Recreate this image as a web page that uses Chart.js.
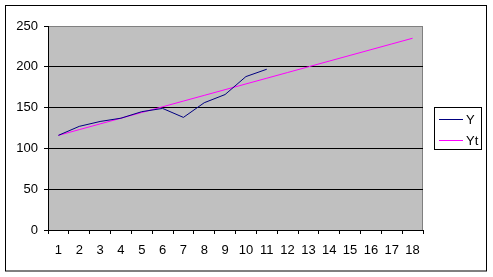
<!DOCTYPE html>
<html>
<head>
<meta charset="utf-8">
<script src="https://cdn.jsdelivr.net/npm/chart.js@4"></script>
<style>
  html, body { margin: 0; padding: 0; background: #fff; }
  #wrap { width: 493px; height: 277px; }
</style>
</head>
<body>
<div id="wrap"><canvas id="grafik" width="493" height="277"></canvas></div>
<script>
// data
var periods = ['1','2','3','4','5','6','7','8','9','10','11','12','13','14','15','16','17','18'];
var nilaiY  = [116, 127, 133, 137, 145, 149, 138, 156, 166, 188, 197];
var nilaiYt = [116, 123, 130, 137, 144, 151, 158, 165, 172, 179, 186, 193, 200, 207, 214, 221, 228, 235];
var yTicks  = [0, 50, 100, 150, 200, 250];

var font = { family: 'Liberation Sans, Arial, sans-serif', size: 13 };

// gray plot area, frame, outer border and the boxed legend
var frame = {
  id: 'frame',
  beforeDraw: function(chart) {
    var c = chart.ctx, a = chart.chartArea;
    c.save();
    c.fillStyle = '#ffffff';
    c.fillRect(0, 0, chart.width, chart.height);
    c.fillStyle = '#c0c0c0';
    c.fillRect(a.left, a.top, a.right - a.left, a.bottom - a.top);
    c.strokeStyle = '#808080';
    c.lineWidth = 1;
    c.strokeRect(a.left + 0.5, a.top + 0.5, a.right - a.left - 1, a.bottom - a.top);
    c.restore();
  },
  afterDraw: function(chart) {
    var c = chart.ctx;
    c.save();
    c.strokeStyle = '#000';
    c.lineWidth = 1;
    c.strokeRect(5.5, 5.5, 481, 265.5);
    // legend
    c.strokeRect(434.5, 107.5, 47, 42);
    c.font = font.size + 'px ' + font.family;
    c.textBaseline = 'middle';
    c.fillStyle = '#000';
    chart.data.datasets.forEach(function(ds, i) {
      var y = 119.5 + i * 21;
      c.strokeStyle = ds.borderColor;
      c.beginPath();
      c.moveTo(439, y);
      c.lineTo(463, y);
      c.stroke();
      c.fillText(ds.label, 466, y + 1);
    });
    c.restore();
  }
};

new Chart(document.getElementById('grafik'), {
  type: 'line',
  data: {
    labels: periods,
    datasets: [
      { label: 'Y', data: nilaiY, borderColor: '#000080', borderWidth: 1, pointRadius: 0, tension: 0, fill: false },
      { label: 'Yt', data: nilaiYt, borderColor: '#ff00ff', borderWidth: 1, pointRadius: 0, tension: 0, fill: false }
    ]
  },
  options: {
    responsive: false,
    animation: false,
    events: [],
    layout: { padding: { left: 0, top: 26, right: 70, bottom: 17 } },
    plugins: { legend: { display: false }, tooltip: { enabled: false } },
    scales: {
      x: {
        offset: true,
        grid: { offset: true, drawOnChartArea: false, drawTicks: true, tickLength: 4, color: '#000' },
        border: { display: true, color: '#000' },
        ticks: { color: '#000', font: font, padding: 9, maxRotation: 0, autoSkip: false },
        afterFit: function(s) { s.height = 30; }
      },
      y: {
        min: 0,
        max: 250,
        afterBuildTicks: function(s) { s.ticks = yTicks.map(function(v) { return { value: v }; }); },
        grid: {
          color: function(ctx) { return ctx.tick && ctx.tick.value === 250 ? '#808080' : '#000'; },
          tickColor: '#000',
          tickLength: 4
        },
        border: { display: true, color: '#000' },
        ticks: { color: '#000', font: font, padding: 6 },
        afterFit: function(s) { s.width = 48; }
      }
    }
  },
  plugins: [frame]
});
</script>
</body>
</html>
